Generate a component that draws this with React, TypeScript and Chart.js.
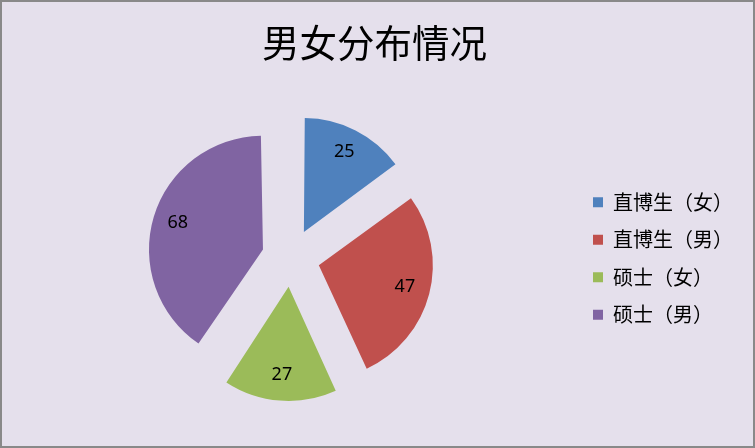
import React, { useEffect, useRef } from 'react';
import { Chart, registerables } from 'chart.js';

Chart.register(...registerables);

const titleText = '男女分布情况';
const categories = ['直博生（女）', '直博生（男）', '硕士（女）', '硕士（男）'];
const values = [25, 47, 27, 68];
const colors = ['#4F81BD', '#C0504D', '#9BBB59', '#8064A2'];

const RADIUS = 114;
const OFFSET = 116; // Chart.js translates slices by offset / 4
const LABEL_POS = 0.78;

const explodePlugin = {
  id: 'explodeFix',
  beforeDatasetsDraw(chart: any) {
    const meta = chart.getDatasetMeta(0);
    meta.data.forEach((arc: any) => {
      const t = (arc.options.offset || 0) / 4;
      const fix = 1 - Math.sin(Math.min(Math.PI, arc.circumference || 0));
      arc.outerRadius = RADIUS - t * fix;
    });
  },
  afterDatasetsDraw(chart: any) {
    const meta = chart.getDatasetMeta(0);
    const ctx = chart.ctx;
    ctx.save();
    ctx.font = '18px "Noto Sans"';
    ctx.fillStyle = '#000';
    ctx.textAlign = 'center';
    ctx.textBaseline = 'middle';
    meta.data.forEach((arc: any, i: number) => {
      const half = (arc.startAngle + arc.endAngle) / 2;
      const t = (arc.options.offset || 0) / 4;
      const d = t + LABEL_POS * RADIUS;
      ctx.fillText(String(values[i]), arc.x + Math.cos(half) * d, arc.y + Math.sin(half) * d - 1);
    });
    ctx.restore();
  },
};

export default function App() {
  const ref = useRef<HTMLCanvasElement | null>(null);
  useEffect(() => {
    if (!ref.current) return;
    const chart = new Chart(ref.current, {
      type: 'pie',
      data: {
        labels: categories,
        datasets: [
          {
            data: values,
            backgroundColor: colors,
            borderWidth: 0,
            offset: OFFSET,
          },
        ],
      },
      options: {
        responsive: false,
        animation: false,
        events: [],
        radius: RADIUS,
        layout: { padding: { left: 4, right: 10, top: 0, bottom: 4.6 } },
        plugins: {
          title: {
            display: true,
            text: titleText,
            color: '#000',
            font: { family: '"Noto Sans CJK SC"', size: 37.5, weight: 'normal' },
            padding: { top: 18, bottom: 9.5 },
          },
          legend: {
            position: 'right',
            title: {
              display: true,
              text: ' ',
              font: { size: 1 },
              padding: { top: 0, bottom: 72.5 },
            },
            labels: {
              boxWidth: 10,
              boxHeight: 10,
              color: '#000',
              padding: 17.5,
              font: { family: '"Noto Sans CJK SC"', size: 20 },
            },
          },
          tooltip: { enabled: false },
        },
      },
      plugins: [explodePlugin],
    });
    return () => chart.destroy();
  }, []);
  return (
    <div
      style={{
        position: 'fixed',
        left: 0,
        top: 0,
        width: 755,
        height: 448,
        boxSizing: 'border-box',
        border: '2px solid #898989',
        background: '#E5E0EC',
      }}
    >
      <canvas ref={ref} width={751} height={444} style={{ display: 'block' }} />
    </div>
  );
}
